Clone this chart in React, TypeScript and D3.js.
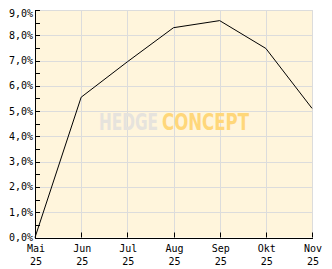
import React from "react";
import * as d3 from "d3";

const months = ["Mai", "Jun", "Jul", "Aug", "Sep", "Okt", "Nov"];
const years = ["25", "25", "25", "25", "25", "25", "25"];
const values = [0.0, 5.55, 6.95, 8.3, 8.58, 7.48, 5.11];
const yTicks = [0, 1, 2, 3, 4, 5, 6, 7, 8, 9];
const yMinorTicks = [0.5, 1.5, 2.5, 3.5, 4.5, 5.5, 6.5, 7.5, 8.5];

const W = 332, H = 269;
const L = 35, R = 312, T = 10, B = 237.5;

export default function App() {
  const x = d3.scalePoint<string>().domain(months).range([L, R]);
  const y = d3.scaleLinear().domain([0, 9]).range([B, T]);
  const line = d3
    .line<number>()
    .x((_, i) => x(months[i]) as number)
    .y((d) => y(d));
  const mono = "'DejaVu Sans Mono', monospace";
  const wm = "'DejaVu Sans Condensed', 'DejaVu Sans', sans-serif";
  return (
    <svg
      width={W}
      height={H}
      style={{ position: "absolute", left: 0, top: 0 }}
    >
      <defs>
        <linearGradient id="hg" x1="0" x2="1" y1="0" y2="0">
          <stop offset="0" stopColor="#ece9e2" />
          <stop offset="1" stopColor="#dedcd8" />
        </linearGradient>
      </defs>
      <rect x={0} y={0} width={W} height={H} fill="#ffffff" />
      <rect x={L} y={T} width={R - L} height={B - T} fill="#fff5dc" />
      {yTicks.map((t) => (
        <line
          key={"gy" + t}
          x1={L}
          x2={R}
          y1={Math.round(y(t)) + 0.5}
          y2={Math.round(y(t)) + 0.5}
          stroke="#dcdcdc"
          strokeWidth={1}
        />
      ))}
      {months.map((m) => (
        <line
          key={"gx" + m}
          x1={Math.round(x(m) as number) + 0.5}
          x2={Math.round(x(m) as number) + 0.5}
          y1={T}
          y2={B}
          stroke="#dcdcdc"
          strokeWidth={1}
        />
      ))}
      <text
        transform="translate(99,130) scale(1,1.3)"
        fontFamily={wm}
        fontWeight="bold"
        fontSize={17}
        fill="#e6e3dd"
        textLength={59}
        lengthAdjust="spacingAndGlyphs"
      >
        HEDGE
      </text>
      <text
        transform="translate(162,130) scale(1,1.3)"
        fontFamily={wm}
        fontWeight="bold"
        fontSize={17}
        fill="#ffd77a"
        textLength={87}
        lengthAdjust="spacingAndGlyphs"
      >
        CONCEPT
      </text>
      <path d={line(values) || ""} fill="none" stroke="#000" strokeWidth={1} />
      <line x1={L + 0.5} x2={L + 0.5} y1={T} y2={B + 0.5} stroke="#000" />
      <line x1={L} x2={R + 1} y1={Math.round(B) + 0.5} y2={Math.round(B) + 0.5} stroke="#000" />
      {[...yTicks, ...yMinorTicks].map((t) => (
        <line
          key={"ty" + t}
          x1={L}
          x2={L + 5}
          y1={Math.round(y(t)) + 0.5}
          y2={Math.round(y(t)) + 0.5}
          stroke="#000"
        />
      ))}
      {months.map((m) => (
        <line
          key={"tx" + m}
          x1={Math.round(x(m) as number) + 0.5}
          x2={Math.round(x(m) as number) + 0.5}
          y1={B - 5}
          y2={B}
          stroke="#000"
        />
      ))}
      <g fontFamily={mono} fontSize={10} fill="#000">
        {yTicks.map((t) => (
          <text
            key={"ly" + t}
            x={33}
            y={(t === 9 ? y(t) + 3 : y(t)) + 3.5}
            textAnchor="end"
          >
            {t.toFixed(1).replace(".", ",") + "%"}
          </text>
        ))}
        {months.map((m, i) => (
          <g key={"lx" + m}>
            <text x={(x(m) as number) + 1} y={252} textAnchor="middle">
              {m}
            </text>
            <text x={(x(m) as number) + 1} y={265} textAnchor="middle">
              {years[i]}
            </text>
          </g>
        ))}
      </g>
    </svg>
  );
}
